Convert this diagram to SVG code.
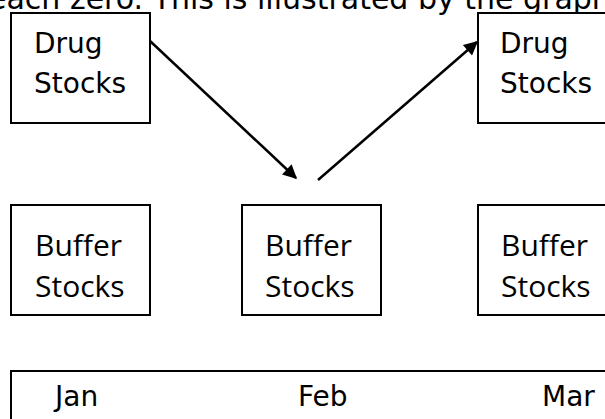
<svg xmlns="http://www.w3.org/2000/svg" width="605" height="419" viewBox="0 0 605 419">
  <style>
    .box { fill: #ffffff; stroke: #000000; stroke-width: 2; }
    .verd { font-family: "DejaVu Sans", Verdana, sans-serif; font-size: 28px; fill: #000000; }
    .head-text { font-family: "DejaVu Sans", Verdana, sans-serif; font-size: 30px; fill: #000000; }
    .cal { font-family: "Open Sans", "Noto Sans", sans-serif; font-size: 30px; fill: #000000; }
    .link { stroke: #000000; stroke-width: 2.5; fill: none; marker-end: url(#head); }
  </style>
  <defs>
    <marker id="head" viewBox="0 0 10 10" refX="9" refY="5" markerWidth="17" markerHeight="14" markerUnits="userSpaceOnUse" orient="auto">
      <path d="M0,0 L10,5 L0,10 z" fill="#000000"/>
    </marker>
  </defs>
  <rect width="605" height="419" fill="#ffffff"/>

  <!-- running text line above the figure -->
  <text class="head-text" x="-12" y="9">each zero. This is illustrated by the graph</text>

  <g id="drug-jan">
    <rect class="box" x="11" y="13" width="139" height="110"/>
    <text class="verd" x="34" y="53">Drug</text>
    <text class="verd" x="34" y="93">Stocks</text>
  </g>
  <g id="drug-mar">
    <rect class="box" x="478" y="13" width="140" height="110"/>
    <text class="verd" x="500" y="53">Drug</text>
    <text class="verd" x="500" y="93">Stocks</text>
  </g>

  <g id="buffer-jan">
    <rect class="box" x="11" y="205" width="139" height="110"/>
    <text class="cal" x="35" y="256">Buffer</text>
    <text class="cal" x="35" y="297">Stocks</text>
  </g>
  <g id="buffer-feb">
    <rect class="box" x="242" y="205" width="139" height="110"/>
    <text class="cal" x="265" y="256">Buffer</text>
    <text class="cal" x="265" y="297">Stocks</text>
  </g>
  <g id="buffer-mar">
    <rect class="box" x="478" y="205" width="140" height="110"/>
    <text class="cal" x="501" y="256">Buffer</text>
    <text class="cal" x="501" y="297">Stocks</text>
  </g>

  <g id="months">
    <rect class="box" x="11" y="371" width="610" height="60"/>
    <text class="verd" x="55" y="406">Jan</text>
    <text class="verd" x="298" y="406">Feb</text>
    <text class="verd" x="542" y="406">Mar</text>
  </g>

  <g id="connectors">
    <line class="link" x1="150" y1="41" x2="296" y2="178"/>
    <line class="link" x1="318" y1="180" x2="477" y2="42"/>
  </g>
</svg>
